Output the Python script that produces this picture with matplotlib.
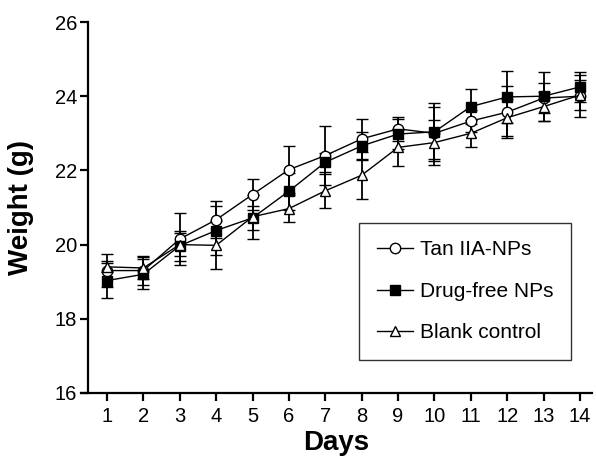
import matplotlib
matplotlib.use("Agg")
import matplotlib.pyplot as plt
from matplotlib.lines import Line2D

days = list(range(1, 15))
tan_mean = [19.3, 19.3, 20.15, 20.67, 21.35, 22.02, 22.4, 22.85, 23.12, 23.0, 23.33, 23.57, 23.95, 24.0]
tan_err = [0.45, 0.4, 0.7, 0.5, 0.42, 0.64, 0.8, 0.54, 0.32, 0.7, 0.3, 0.7, 0.4, 0.57]
drug_mean = [19.03, 19.2, 19.97, 20.38, 20.72, 21.44, 22.22, 22.66, 22.98, 23.04, 23.72, 23.98, 24.0, 24.25]
drug_err = [0.47, 0.4, 0.4, 0.65, 0.33, 0.5, 0.25, 0.38, 0.4, 0.78, 0.48, 0.7, 0.66, 0.41]
blank_mean = [19.4, 19.37, 20.0, 19.98, 20.75, 20.97, 21.45, 21.87, 22.62, 22.75, 23.0, 23.42, 23.72, 24.03]
blank_err = [0.15, 0.3, 0.3, 0.65, 0.6, 0.37, 0.45, 0.63, 0.5, 0.6, 0.37, 0.5, 0.38, 0.4]
labels = ["Tan IIA-NPs", "Drug-free NPs", "Blank control"]
yticks = [16, 18, 20, 22, 24, 26]

plt.rcParams['font.family'] = ['Liberation Sans', 'DejaVu Sans']
fig = plt.figure(figsize=(5.96, 4.57), dpi=100)
ax = fig.add_axes([81/596, 64/457, 511/596, 371/457])

styles = [
    dict(marker='o', mfc='white', mec='black'),
    dict(marker='s', mfc='black', mec='black'),
    dict(marker='^', mfc='white', mec='black'),
]
series = [(tan_mean, tan_err), (drug_mean, drug_err), (blank_mean, blank_err)]
handles = []
for (m, e), st, lab in zip(series, styles, labels):
    ax.errorbar(days, m, yerr=e, color='black', lw=1.0, elinewidth=1.3,
                capsize=4.3, capthick=1.3, markersize=7.5, mew=1.0, **st)
    handles.append(Line2D([], [], color='black', lw=1.0, markersize=7.5, mew=1.0, **st))

ax.set_xlim(0.286, 14.33)
ax.set_ylim(16, 26)
ax.spines['top'].set_visible(False)
ax.spines['right'].set_visible(False)
ax.spines['left'].set_position(('data', 0.48))
ax.spines['left'].set_bounds(16, 26)
for s in ['left', 'bottom']:
    ax.spines[s].set_linewidth(1.6)
ax.set_xticks(days)
ax.set_yticks(yticks)
ax.tick_params(axis='both', direction='out', length=6, width=1.6, labelsize=14.5, pad=2)
ax.tick_params(axis='x', pad=4)
ax.set_xlabel('Days', fontsize=20, fontweight='bold', labelpad=3)
ax.set_ylabel('Weight (g)', fontsize=20, fontweight='bold')
ax.yaxis.set_label_coords(-0.092, 0.5)

leg = ax.legend(handles=handles, labels=labels, loc='lower right',
                bbox_to_anchor=(571/596, 97/457), bbox_transform=fig.transFigure,
                fontsize=15, frameon=True, fancybox=False, edgecolor='black',
                handlelength=1.7, handletextpad=0.35, borderpad=0.85, labelspacing=1.08,
                borderaxespad=0)
leg.get_frame().set_linewidth(1.0)

fig.savefig('out.png', dpi=100)
